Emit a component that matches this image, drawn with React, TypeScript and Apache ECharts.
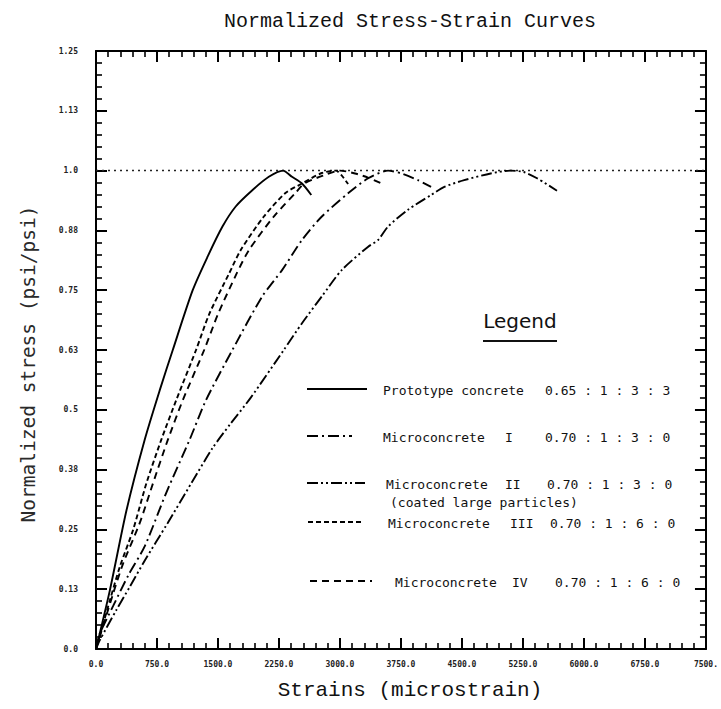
import React, { useEffect, useRef } from "react";
import * as echarts from "echarts";

const xTickLabels = ["0.0", "750.0", "1500.0", "2250.0", "3000.0", "3750.0", "4500.0", "5250.0", "6000.0", "6750.0", "7500."];
const yTickLabels = ["0.0", "0.13", "0.25", "0.38", "0.5", "0.63", "0.75", "0.88", "1.0", "1.13", "1.25"];

const prototypeStrain = [0, 171, 375, 598, 782, 944, 1189, 1372, 1555, 1718, 1922, 2125, 2300, 2410, 2533, 2647];
const prototypeStress = [0, 0.123, 0.29, 0.437, 0.54, 0.625, 0.75, 0.82, 0.883, 0.925, 0.959, 0.987, 1.0, 0.987, 0.973, 0.949];

const micro1Strain = [0, 49, 211, 400, 600, 860, 1150, 1352, 1677, 2044, 2288, 2533, 2777, 3103, 3347, 3591, 3754, 3958, 4120];
const micro1Stress = [0, 0.033, 0.09, 0.155, 0.215, 0.325, 0.437, 0.52, 0.625, 0.737, 0.792, 0.855, 0.904, 0.953, 0.984, 1.0, 0.994, 0.98, 0.966];

const micro2Strain = [0, 49, 252, 415, 600, 880, 1170, 1433, 1650, 1901, 2309, 2533, 2777, 3021, 3347, 3469, 3591, 3835, 4120, 4283, 4527, 4853, 5097, 5260, 5423, 5668];
const micro2Stress = [0, 0.019, 0.082, 0.13, 0.185, 0.263, 0.346, 0.42, 0.47, 0.525, 0.625, 0.681, 0.737, 0.792, 0.841, 0.855, 0.883, 0.918, 0.949, 0.966, 0.98, 0.994, 1.0, 0.997, 0.984, 0.958];

const micro3Strain = [0, 171, 293, 456, 619, 802, 986, 1230, 1392, 1637, 1780, 2064, 2329, 2533, 2777, 2950, 3020, 3100];
const micro3Stress = [0, 0.102, 0.172, 0.249, 0.346, 0.437, 0.52, 0.625, 0.7, 0.785, 0.834, 0.904, 0.953, 0.973, 0.995, 1.0, 0.99, 0.972];

const micro4Strain = [0, 211, 334, 537, 700, 883, 1067, 1330, 1500, 1730, 1881, 2186, 2451, 2560, 2800, 3000, 3185, 3350, 3510];
const micro4Stress = [0, 0.116, 0.179, 0.263, 0.346, 0.437, 0.52, 0.625, 0.7, 0.785, 0.834, 0.904, 0.953, 0.973, 0.99, 1.0, 0.994, 0.985, 0.973];

const referenceStress = [1.0];

const legendNames = ["Prototype concrete", "Microconcrete", "Microconcrete", "Microconcrete", "Microconcrete"];
const legendNumerals = ["", "I", "II", "III", "IV"];
const legendRatios = ["0.65 : 1 : 3 : 3", "0.70 : 1 : 3 : 0", "0.70 : 1 : 3 : 0", "0.70 : 1 : 6 : 0", "0.70 : 1 : 6 : 0"];
const legendNote = "(coated large particles)";

const zip = (xs: number[], ys: number[]) => xs.map((x, i) => [x, ys[i]]);

const DASH_PROTO: any = "solid";
const DASH_I = [11, 4, 2, 4];
const DASH_II = [11, 3, 2, 3, 2, 3];
const DASH_III = [5, 3];
const DASH_IV = [7, 5];

const MONO = "'DejaVu Sans Mono', monospace";
const COURIER = "'Liberation Mono', 'DejaVu Sans Mono', monospace";

export default function App() {
  const ref = useRef<HTMLDivElement>(null);
  useEffect(() => {
    if (!ref.current) return;
    const chart = echarts.init(ref.current, null, { renderer: "svg" });

    const axisCommon = () => ({
      type: "value",
      axisLine: { show: true, onZero: false, lineStyle: { color: "#000", width: 2 } },
      axisTick: { show: true, inside: true, length: 11, lineStyle: { color: "#000", width: 2 } },
      minorTick: { show: true, splitNumber: 5, length: 6, lineStyle: { color: "#000", width: 1.6 } },
      splitLine: { show: false },
      minorSplitLine: { show: false },
    });

    const xMain: any = {
      ...axisCommon(),
      position: "bottom",
      min: 0,
      max: 7500,
      interval: 750,
      axisLabel: {
        show: true,
        margin: 11,
        fontSize: 8,
        fontWeight: "bold",
        fontFamily: MONO,
        color: "#222",
        showMaxLabel: true,
        formatter: (v: number) => xTickLabels[Math.round(v / 750)] ?? "",
      },
    };
    const xTop: any = { ...axisCommon(), position: "top", min: 0, max: 7500, interval: 750, axisLabel: { show: false } };
    const yMain: any = {
      ...axisCommon(),
      position: "left",
      min: 0,
      max: 1.25,
      interval: 0.125,
      axisLabel: {
        show: true,
        margin: 18,
        fontSize: 8,
        fontWeight: "bold",
        fontFamily: MONO,
        color: "#222",
        formatter: (v: number) => yTickLabels[Math.round(v / 0.125)] ?? "",
      },
    };
    const yRight: any = { ...axisCommon(), position: "right", min: 0, max: 1.25, interval: 0.125, axisLabel: { show: false } };

    const lineSeries = (name: string, xs: number[], ys: number[], dash: any) => ({
      name,
      type: "line",
      xAxisIndex: 0,
      yAxisIndex: 0,
      data: zip(xs, ys),
      showSymbol: false,
      smooth: 0.25,
      lineStyle: { color: "#000", width: 1.9, type: dash },
      silent: true,
    });

    const legendRows = [
      { y: 389, x1: 307, x2: 367, dash: [] as number[], nameX: 383, numX: 0, ratioX: 545 },
      { y: 436, x1: 307, x2: 352, dash: DASH_I, nameX: 383, numX: 505, ratioX: 545 },
      { y: 483, x1: 307, x2: 365, dash: DASH_II, nameX: 386, numX: 505, ratioX: 547 },
      { y: 522, x1: 308, x2: 363, dash: DASH_III, nameX: 388, numX: 510, ratioX: 550 },
      { y: 581, x1: 310, x2: 372, dash: DASH_IV, nameX: 395, numX: 512, ratioX: 555 },
    ];

    const graphics: any[] = [
      {
        type: "text",
        x: 410,
        y: 21,
        style: { text: "Normalized Stress-Strain Curves", font: `20px ${COURIER}`, fill: "#111", textAlign: "center", textVerticalAlign: "middle" },
      },
      {
        type: "text",
        x: 410,
        y: 690,
        style: { text: "Strains (microstrain)", font: `21px ${COURIER}`, fill: "#111", textAlign: "center", textVerticalAlign: "middle" },
      },
      {
        type: "text",
        x: 28,
        y: 364,
        rotation: Math.PI / 2,
        style: { text: "Normalized stress (psi/psi)", font: `19.5px ${MONO}`, fill: "#2a2a2a", textAlign: "center", textVerticalAlign: "middle" },
      },
      {
        type: "text",
        x: 520,
        y: 321,
        style: { text: "Legend", font: `20px 'DejaVu Sans', sans-serif`, fill: "#111", textAlign: "center", textVerticalAlign: "middle" },
      },
      { type: "line", shape: { x1: 483, y1: 341, x2: 557, y2: 341 }, style: { stroke: "#111", lineWidth: 2 } },
    ];

    legendRows.forEach((r, i) => {
      graphics.push({
        type: "line",
        shape: { x1: r.x1, y1: r.y, x2: r.x2, y2: r.y },
        style: { stroke: "#000", lineWidth: 2, lineDash: r.dash.length ? r.dash : null },
      });
      graphics.push({
        type: "text",
        x: r.nameX,
        y: r.y + 1,
        style: { text: legendNames[i], font: `13px ${MONO}`, fill: "#111", textAlign: "left", textVerticalAlign: "middle" },
      });
      if (legendNumerals[i]) {
        graphics.push({
          type: "text",
          x: r.numX,
          y: r.y + 1,
          style: { text: legendNumerals[i], font: `13px ${MONO}`, fill: "#111", textAlign: "left", textVerticalAlign: "middle" },
        });
      }
      graphics.push({
        type: "text",
        x: r.ratioX,
        y: r.y + 1,
        style: { text: legendRatios[i], font: `13px ${MONO}`, fill: "#111", textAlign: "left", textVerticalAlign: "middle" },
      });
    });
    graphics.push({
      type: "text",
      x: 390,
      y: 502,
      style: { text: legendNote, font: `13px ${MONO}`, fill: "#111", textAlign: "left", textVerticalAlign: "middle" },
    });

    const option: any = {
      animation: false,
      backgroundColor: "#fff",
      grid: { left: 96, right: 11, top: 51, bottom: 60, containLabel: false },
      xAxis: [xMain, xTop],
      yAxis: [yMain, yRight],
      series: [
        {
          name: "reference",
          type: "line",
          data: [[0, referenceStress[0]], [7500, referenceStress[0]]],
          showSymbol: false,
          lineStyle: { color: "#222", width: 1.5, type: [2, 4] },
          silent: true,
        },
        lineSeries("Prototype concrete", prototypeStrain, prototypeStress, DASH_PROTO),
        lineSeries("Microconcrete I", micro1Strain, micro1Stress, DASH_I),
        lineSeries("Microconcrete II", micro2Strain, micro2Stress, DASH_II),
        lineSeries("Microconcrete III", micro3Strain, micro3Stress, DASH_III),
        lineSeries("Microconcrete IV", micro4Strain, micro4Stress, DASH_IV),
      ],
      graphic: graphics,
    };
    chart.setOption(option);
    return () => chart.dispose();
  }, []);

  return <div ref={ref} style={{ position: "absolute", left: 0, top: 0, width: 721, height: 709, background: "#fff" }} />;
}
